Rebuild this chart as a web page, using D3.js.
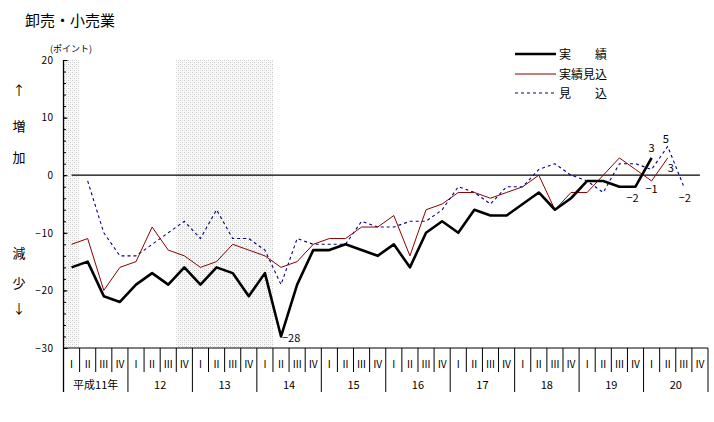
<!DOCTYPE html>
<html><head><meta charset="utf-8">
<script src="https://cdn.jsdelivr.net/npm/d3@7"></script>
<style>
html,body{margin:0;padding:0;background:#fff;}
svg{display:block;}
text{font-family:"Noto Sans CJK JP","DejaVu Sans",sans-serif;fill:#000;}
</style></head>
<body>
<svg id="chart" width="714" height="422"></svg>
<script>
// ---- data ----
const quarterLabels = ["Ⅰ","Ⅱ","Ⅲ","Ⅳ"];
const yearLabels = ["平成11年","12","13","14","15","16","17","18","19","20"];
const yTicks = [20,10,0,-10,-20,-30];
const shadedQuarters = [[0,1],[7,13]];
const seriesNames = ["実　　績","実績見込","見　　込"];
const actual = [-16,-15,-21,-22,-19,-17,-19,-16,-19,-16,-17,-21,-17,-28,-19,-13,-13,-12,-13,-14,-12,-16,-10,-8,-10,-6,-7,-7,-5,-3,-6,-4,-1,-1,-2,-2,3];
const estimated = [-12,-11,-20,-16,-15,-9,-13,-14,-16,-15,-12,-13,-14,-16,-15,-12,-11,-11,-9,-9,-7,-14,-6,-5,-3,-3,-4,-3,-2,0,-6,-3,-3,0,3,1,-1,3];
const forecast = [null,-1,-10,-14,-14,-12,-10,-8,-11,-6,-11,-11,-13,-19,-11,-12,-12,-12,-8,-9,-9,-8,-8,-6,-2,-3,-5,-2,-2,1,2,0,-1,-3,2,2,1,5,-2];
const annotations = [
  {series:"actual", index:13},
  {series:"actual", index:35},
  {series:"actual", index:36},
  {series:"estimated", index:36},
  {series:"estimated", index:37},
  {series:"forecast", index:37},
  {series:"forecast", index:38}
];

// ---- layout ----
const svg = d3.select("#chart");
const L = 63.5, R = 708, T = 60, B = 348;
const nQ = yearLabels.length * 4;
const x = d3.scaleLinear().domain([0, nQ]).range([L, R]);
const y = d3.scaleLinear().domain([-30, 20]).range([B, T]);

// pattern
const defs = svg.append("defs");
const pat = defs.append("pattern").attr("id","dots").attr("patternUnits","userSpaceOnUse")
  .attr("width",4).attr("height",4);
pat.append("rect").attr("width",4).attr("height",4).attr("fill","#fafafa");
pat.append("rect").attr("x",0).attr("y",0).attr("width",1).attr("height",1).attr("fill","#c4c4c4");
pat.append("rect").attr("x",2).attr("y",2).attr("width",1).attr("height",1).attr("fill","#c4c4c4");
pat.append("rect").attr("x",2).attr("y",0).attr("width",1).attr("height",1).attr("fill","#e2e2e2");
pat.append("rect").attr("x",0).attr("y",2).attr("width",1).attr("height",1).attr("fill","#e2e2e2");

svg.selectAll("rect.shade").data(shadedQuarters).join("rect").attr("class","shade")
  .attr("x", d => x(d[0])).attr("y", T)
  .attr("width", d => x(d[1]) - x(d[0])).attr("height", B - T)
  .attr("fill","url(#dots)");

// title
svg.append("text").attr("x",25).attr("y",26).attr("font-size",15).text("卸売・小売業");
svg.append("text").attr("x",50).attr("y",52).attr("font-size",9)
  .attr("textLength",42).attr("lengthAdjust","spacingAndGlyphs").text("(ポイント)");

// side labels
const side = [["↑",90],["増",126],["加",157],["減",253],["少",283],["↓",308]];
svg.selectAll("text.side").data(side).join("text").attr("class","side")
  .attr("x",19).attr("y",d=>d[1]+5).attr("text-anchor","middle").attr("font-size",13).text(d=>d[0]);

// y axis
const yMinor = d3.axisLeft(y).tickValues(d3.range(-30,21,2)).tickSize(-2.5).tickFormat("");
svg.append("g").attr("transform",`translate(${L},0)`).call(yMinor)
  .call(g => g.select(".domain").remove())
  .selectAll("line").attr("stroke","#000");
const yMajor = d3.axisLeft(y).tickValues(yTicks).tickSize(-4).tickPadding(10).tickFormat(d3.format("d"));
const gy = svg.append("g").attr("transform",`translate(${L},0)`).call(yMajor);
gy.select(".domain").remove();
gy.selectAll("line").attr("stroke","#000");
gy.selectAll("text").attr("font-family","DejaVu Sans").attr("font-size",10).attr("letter-spacing","0.5px");

// axis lines
svg.append("line").attr("x1",L).attr("x2",L).attr("y1",T).attr("y2",392).attr("stroke","#000").attr("stroke-width",1.3);
svg.append("line").attr("x1",L).attr("x2",R).attr("y1",B).attr("y2",B).attr("stroke","#000");

// x separators
const bounds = d3.range(0, nQ + 1);
svg.selectAll("line.sep").data(bounds).join("line").attr("class","sep")
  .attr("x1", d => x(d)).attr("x2", d => x(d))
  .attr("y1", B).attr("y2", d => d % 4 === 0 ? 392 : 372)
  .attr("stroke","#000");

svg.selectAll("text.q").data(d3.range(nQ)).join("text").attr("class","q")
  .attr("x", d => x(d + 0.5)).attr("y", 368).attr("text-anchor","middle")
  .attr("font-size",10).text(d => quarterLabels[d % 4]);

svg.selectAll("text.yr").data(yearLabels).join("text").attr("class","yr")
  .attr("x",(d,i)=> x(i*4 + 2)).attr("y",389).attr("text-anchor","middle")
  .attr("font-size",11).text(d=>d);

// zero line
svg.append("line").attr("x1",x(0.5)).attr("x2",x(nQ-0.5)).attr("y1",y(0)).attr("y2",y(0))
  .attr("stroke","#000").attr("stroke-width",1.2);

// series
const styles = {
  actual:{color:"#000", width:2.6, dash:null},
  estimated:{color:"#8b0000", width:1, dash:null},
  forecast:{color:"#00008b", width:1.1, dash:"3,3"}
};
const dataMap = {actual, estimated, forecast};
const line = d3.line().defined(d => d.v !== null).x(d => x(d.i + 0.5)).y(d => y(d.v));
["forecast","estimated","actual"].forEach(k => {
  const pts = dataMap[k].map((v,i)=>({i,v}));
  svg.append("path").datum(pts).attr("d",line).attr("fill","none")
    .attr("stroke",styles[k].color).attr("stroke-width",styles[k].width)
    .attr("stroke-dasharray",styles[k].dash).attr("stroke-linejoin","round");
});

// annotations
const annOffset = {
  "actual-13":[1,6,"start"], "actual-35":[-3,15,"middle"], "actual-36":[0,-6,"middle"],
  "estimated-36":[0,12,"middle"], "estimated-37":[3,14,"middle"],
  "forecast-37":[-2,-3,"middle"], "forecast-38":[1,15,"middle"]
};
svg.selectAll("text.ann").data(annotations).join("text").attr("class","ann")
  .attr("x", d => x(d.index + 0.5) + annOffset[d.series+"-"+d.index][0])
  .attr("y", d => y(dataMap[d.series][d.index]) + annOffset[d.series+"-"+d.index][1])
  .attr("text-anchor", d => annOffset[d.series+"-"+d.index][2])
  .attr("font-family","DejaVu Sans").attr("font-size",11)
  .text(d => d3.format("d")(dataMap[d.series][d.index]));

// legend
const lg = svg.append("g");
const keys = ["actual","estimated","forecast"];
const legY = [54,74,93];
keys.forEach((k,i) => {
  lg.append("line").attr("x1",515).attr("x2",556).attr("y1",legY[i]).attr("y2",legY[i])
    .attr("stroke",styles[k].color).attr("stroke-width",styles[k].width).attr("stroke-dasharray",styles[k].dash);
  lg.append("text").attr("x",559).attr("y",legY[i]+4.5).attr("font-size",12).text(seriesNames[i]);
});
</script>
</body></html>
